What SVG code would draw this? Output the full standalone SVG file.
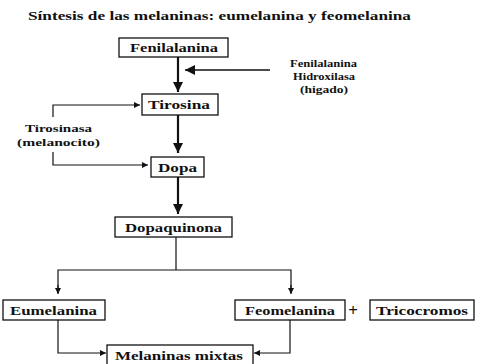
<svg xmlns="http://www.w3.org/2000/svg" width="480" height="364" viewBox="0 0 480 364">
<defs>
<style>
.box{fill:#fff;stroke:#111;stroke-width:1.3}
.t{font-family:"Liberation Serif","Times New Roman",serif;font-weight:bold;font-size:13.5px;fill:#111;text-anchor:start}
.s{font-family:"Liberation Serif","Times New Roman",serif;font-weight:bold;font-size:11px;fill:#111;text-anchor:start}
.thick{stroke:#111;stroke-width:2.2;fill:none}
.thin{stroke:#111;stroke-width:1.2;fill:none}
</style>
<marker id="big" viewBox="0 0 10 10" refX="10" refY="5" markerWidth="10" markerHeight="10" markerUnits="userSpaceOnUse" orient="auto"><path d="M0,0L10,5L0,10z" fill="#111"/></marker>
<marker id="sm" viewBox="0 0 10 10" refX="10" refY="5" markerWidth="6" markerHeight="6" markerUnits="userSpaceOnUse" orient="auto"><path d="M0,0L10,5L0,10z" fill="#111"/></marker>
</defs>
<rect width="480" height="364" fill="#fff"/>
<text class="t" x="28" y="20" textLength="383" lengthAdjust="spacingAndGlyphs">Síntesis de las melaninas: eumelanina y feomelanina</text>

<g id="connectors">
<line class="thick" x1="178" y1="57" x2="178" y2="92" marker-end="url(#big)"/>
<line class="thick" x1="270" y1="70" x2="185" y2="70" marker-end="url(#big)" style="stroke-width:1.6"/>
<line class="thick" x1="178" y1="115" x2="178" y2="153" marker-end="url(#big)"/>
<line class="thick" x1="178" y1="177" x2="178" y2="214" marker-end="url(#big)"/>
<polyline class="thin" points="53,117 53,105 140,105" marker-end="url(#sm)"/>
<polyline class="thin" points="53,152 53,165 148,165" marker-end="url(#sm)"/>
<line class="thin" x1="176" y1="237" x2="176" y2="270"/>
<polyline class="thin" points="291,293 291,270 58,270 58,293" style="stroke-linejoin:miter"/>
<line class="thin" x1="58" y1="285" x2="58" y2="294" marker-end="url(#sm)"/>
<line class="thin" x1="291" y1="285" x2="291" y2="294" marker-end="url(#sm)"/>
<polyline class="thin" points="58,320 58,353 106,353" marker-end="url(#sm)"/>
<polyline class="thin" points="290,320 290,353 254,353" marker-end="url(#sm)"/>
</g>

<g id="enzima1">
<text class="s" x="290" y="67" textLength="67" lengthAdjust="spacingAndGlyphs">Fenilalanina</text>
<text class="s" x="293" y="80" textLength="62" lengthAdjust="spacingAndGlyphs">Hidroxilasa</text>
<text class="s" x="300" y="93" textLength="48" lengthAdjust="spacingAndGlyphs">(higado)</text>
</g>
<g id="enzima2">
<text class="s" x="25" y="132" textLength="67" lengthAdjust="spacingAndGlyphs">Tirosinasa</text>
<text class="s" x="17" y="146" textLength="83" lengthAdjust="spacingAndGlyphs">(melanocito)</text>
</g>

<g id="fenilalanina">
<rect class="box" x="119" y="38" width="109" height="19"/>
<text class="t" x="130" y="52" textLength="88" lengthAdjust="spacingAndGlyphs">Fenilalanina</text>
</g>
<g id="tirosina">
<rect class="box" x="142" y="94" width="76" height="21"/>
<text class="t" x="148" y="109" textLength="62" lengthAdjust="spacingAndGlyphs">Tirosina</text>
</g>
<g id="dopa">
<rect class="box" x="151" y="157" width="53" height="20"/>
<text class="t" x="158" y="172" textLength="39" lengthAdjust="spacingAndGlyphs">Dopa</text>
</g>
<g id="dopaquinona">
<rect class="box" x="115" y="217" width="117" height="20"/>
<text class="t" x="125" y="232" textLength="97" lengthAdjust="spacingAndGlyphs">Dopaquinona</text>
</g>
<g id="eumelanina">
<rect class="box" x="3" y="300" width="102" height="20"/>
<text class="t" x="10" y="315" textLength="87" lengthAdjust="spacingAndGlyphs">Eumelanina</text>
</g>
<g id="feomelanina">
<rect class="box" x="235" y="300" width="110" height="20"/>
<text class="t" x="245" y="315" textLength="90" lengthAdjust="spacingAndGlyphs">Feomelanina</text>
</g>
<text class="t" x="353" y="316" style="text-anchor:middle;font-size:17px">+</text>
<g id="tricocromos">
<rect class="box" x="370" y="300" width="104" height="20"/>
<text class="t" x="376" y="315" textLength="92" lengthAdjust="spacingAndGlyphs">Tricocromos</text>
</g>
<g id="mixtas">
<rect class="box" x="107" y="345" width="146" height="22"/>
<text class="t" x="115" y="360" textLength="128" lengthAdjust="spacingAndGlyphs">Melaninas mixtas</text>
</g>
</svg>
